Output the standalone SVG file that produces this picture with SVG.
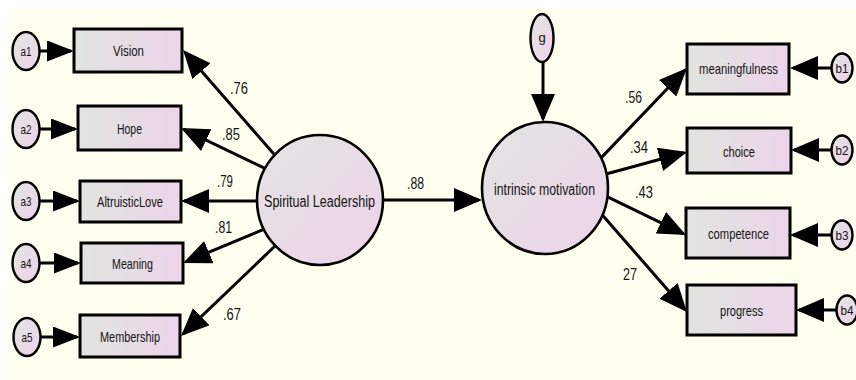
<svg xmlns="http://www.w3.org/2000/svg" width="856" height="380" viewBox="0 0 856 380">
  <defs>
    <linearGradient id="boxFill" x1="0" y1="0" x2="1" y2="0">
      <stop offset="0" stop-color="#e0e5df"/>
      <stop offset="1" stop-color="#edd4ea"/>
    </linearGradient>
    <linearGradient id="ovalFill" x1="0" y1="0" x2="1" y2="1">
      <stop offset="0" stop-color="#e2e5e2"/>
      <stop offset="1" stop-color="#eed2ea"/>
    </linearGradient>
    <marker id="ah" viewBox="0 0 28 24" refX="25" refY="12" markerWidth="28" markerHeight="24" markerUnits="userSpaceOnUse" orient="auto">
      <path d="M0,0 L28,12 L0,24 z" fill="#000"/>
    </marker>
    <marker id="ahs" viewBox="0 0 27 21" refX="24" refY="10.5" markerWidth="27" markerHeight="21" markerUnits="userSpaceOnUse" orient="auto">
      <path d="M0,0 L27,10.5 L0,21 z" fill="#000"/>
    </marker>
  </defs>
  <style>
    .box { fill: url(#boxFill); stroke: #000; stroke-width: 3; }
    .oval { fill: url(#ovalFill); stroke: #000; stroke-width: 2.6; }
    .err { fill: url(#ovalFill); stroke: #000; stroke-width: 2.4; }
    .lbl { font-family: "Liberation Sans", Arial, sans-serif; fill: #141414; }
    .bl { font-size: 15px; }
    .ol { font-size: 16px; }
    .el { font-size: 13px; }
    .coef { font-size: 16px; }
    .cx { stroke: #000; stroke-width: 3; fill: none; marker-end: url(#ah); }
    .ex { stroke: #000; stroke-width: 3; fill: none; marker-end: url(#ahs); }
  </style>

  <!-- canvas -->
  <rect x="0" y="0" width="856" height="380" fill="#ffffff"/>
  <rect x="8" y="8" width="848" height="372" fill="#fffff0"/>

  <!-- connectors -->
  <g id="connectors">
    <!-- loadings of Spiritual Leadership -->
    <path class="cx" d="M276.3,156.8 L185.0,52.3"/>
    <path class="cx" d="M266.5,169.2 L183.7,129.3"/>
    <path class="cx" d="M263,201 L184,201"/>
    <path class="cx" d="M266.6,228.1 L185.8,261.8"/>
    <path class="cx" d="M276.6,244.5 L183.2,333.9"/>
    <!-- structural path -->
    <path class="cx" d="M378,200 L479,200"/>
    <!-- disturbance -->
    <path class="cx" d="M543,58 L543,119"/>
    <!-- loadings of intrinsic motivation -->
    <path class="cx" d="M598.5,160.6 L684.9,70.2"/>
    <path class="cx" d="M605.2,174.3 L684.1,152.8"/>
    <path class="cx" d="M605.5,195.8 L683.3,233.7"/>
    <path class="cx" d="M601.7,214.2 L685,309.7"/>
    <!-- measurement errors -->
    <path class="ex" d="M36,51 L71,51"/>
    <path class="ex" d="M36,129 L75,129"/>
    <path class="ex" d="M36,201 L77,201"/>
    <path class="ex" d="M36,263 L78,263"/>
    <path class="ex" d="M37,337 L77,337"/>
    <path class="cx" d="M834,68 L793,68"/>
    <path class="cx" d="M834,150 L794,150"/>
    <path class="cx" d="M834,235 L793,235"/>
    <path class="cx" d="M840,310 L799,310"/>
  </g>

  <!-- coefficients -->
  <g id="coefficients" class="lbl coef">
    <text x="230" y="94" textLength="18" lengthAdjust="spacingAndGlyphs">.76</text>
    <text x="222" y="140" textLength="18" lengthAdjust="spacingAndGlyphs">.85</text>
    <text x="217" y="187" textLength="16" lengthAdjust="spacingAndGlyphs">.79</text>
    <text x="215" y="233" textLength="17" lengthAdjust="spacingAndGlyphs">.81</text>
    <text x="223" y="320" textLength="18" lengthAdjust="spacingAndGlyphs">.67</text>
    <text x="407" y="189" textLength="17" lengthAdjust="spacingAndGlyphs">.88</text>
    <text x="625" y="103" textLength="17" lengthAdjust="spacingAndGlyphs">.56</text>
    <text x="630" y="153" textLength="18" lengthAdjust="spacingAndGlyphs">.34</text>
    <text x="635" y="198" textLength="18" lengthAdjust="spacingAndGlyphs">.43</text>
    <text x="623" y="280" textLength="14" lengthAdjust="spacingAndGlyphs">27</text>
  </g>

  <!-- latent variables -->
  <g id="spiritual-leadership">
    <ellipse class="oval" cx="320" cy="200" rx="63" ry="65"/>
    <text class="lbl ol" x="264" y="207" textLength="111" lengthAdjust="spacingAndGlyphs">Spiritual Leadership</text>
  </g>
  <g id="intrinsic-motivation">
    <ellipse class="oval" cx="545" cy="188" rx="63" ry="66"/>
    <text class="lbl ol" x="494" y="195" textLength="101" lengthAdjust="spacingAndGlyphs">intrinsic motivation</text>
  </g>
  <g id="g">
    <ellipse class="err" cx="542" cy="38" rx="11.5" ry="24"/>
    <text class="lbl el" x="542" y="42" text-anchor="middle">g</text>
  </g>

  <!-- indicators of Spiritual Leadership -->
  <g id="vision">
    <rect class="box" x="74" y="29" width="108" height="43"/>
    <text class="lbl bl" x="113" y="56" textLength="31" lengthAdjust="spacingAndGlyphs">Vision</text>
  </g>
  <g id="hope">
    <rect class="box" x="78" y="106" width="103" height="44"/>
    <text class="lbl bl" x="117" y="134" textLength="25" lengthAdjust="spacingAndGlyphs">Hope</text>
  </g>
  <g id="altruistic-love">
    <rect class="box" x="80" y="181" width="101" height="41"/>
    <text class="lbl bl" x="97" y="207" textLength="66" lengthAdjust="spacingAndGlyphs">AltruisticLove</text>
  </g>
  <g id="meaning">
    <rect class="box" x="81" y="243" width="102" height="40"/>
    <text class="lbl bl" x="112" y="269" textLength="41" lengthAdjust="spacingAndGlyphs">Meaning</text>
  </g>
  <g id="membership">
    <rect class="box" x="80" y="315" width="100" height="42"/>
    <text class="lbl bl" x="100" y="342" textLength="60" lengthAdjust="spacingAndGlyphs">Membership</text>
  </g>

  <!-- indicators of intrinsic motivation -->
  <g id="meaningfulness">
    <rect class="box" x="687" y="44" width="102" height="50"/>
    <text class="lbl bl" x="699" y="74" textLength="79" lengthAdjust="spacingAndGlyphs">meaningfulness</text>
  </g>
  <g id="choice">
    <rect class="box" x="687" y="128" width="104" height="45"/>
    <text class="lbl bl" x="723" y="157" textLength="32" lengthAdjust="spacingAndGlyphs">choice</text>
  </g>
  <g id="competence">
    <rect class="box" x="686" y="208" width="104" height="50"/>
    <text class="lbl bl" x="708" y="239" textLength="61" lengthAdjust="spacingAndGlyphs">competence</text>
  </g>
  <g id="progress">
    <rect class="box" x="687" y="285" width="109" height="50"/>
    <text class="lbl bl" x="720" y="316" textLength="43" lengthAdjust="spacingAndGlyphs">progress</text>
  </g>

  <!-- error terms -->
  <g id="a1">
    <ellipse class="err" cx="26" cy="51" rx="13.5" ry="19"/>
    <text class="lbl el" x="26" y="55.5" text-anchor="middle" textLength="11" lengthAdjust="spacingAndGlyphs">a1</text>
  </g>
  <g id="a2">
    <ellipse class="err" cx="26" cy="129" rx="13.5" ry="19"/>
    <text class="lbl el" x="26" y="133.5" text-anchor="middle" textLength="11" lengthAdjust="spacingAndGlyphs">a2</text>
  </g>
  <g id="a3">
    <ellipse class="err" cx="26" cy="201" rx="13.5" ry="19"/>
    <text class="lbl el" x="26" y="205.5" text-anchor="middle" textLength="11" lengthAdjust="spacingAndGlyphs">a3</text>
  </g>
  <g id="a4">
    <ellipse class="err" cx="26" cy="263" rx="13.5" ry="19"/>
    <text class="lbl el" x="26" y="267.5" text-anchor="middle" textLength="11" lengthAdjust="spacingAndGlyphs">a4</text>
  </g>
  <g id="a5">
    <ellipse class="err" cx="27" cy="337" rx="13.5" ry="19"/>
    <text class="lbl el" x="27" y="341.5" text-anchor="middle" textLength="11" lengthAdjust="spacingAndGlyphs">a5</text>
  </g>
  <g id="b1">
    <ellipse class="err" cx="842" cy="68" rx="10.5" ry="14.5"/>
    <text class="lbl el" x="842" y="72.5" text-anchor="middle" textLength="13" lengthAdjust="spacingAndGlyphs">b1</text>
  </g>
  <g id="b2">
    <ellipse class="err" cx="842" cy="150" rx="10.5" ry="14.5"/>
    <text class="lbl el" x="842" y="154.5" text-anchor="middle" textLength="13" lengthAdjust="spacingAndGlyphs">b2</text>
  </g>
  <g id="b3">
    <ellipse class="err" cx="842" cy="235" rx="10.5" ry="14.5"/>
    <text class="lbl el" x="842" y="239.5" text-anchor="middle" textLength="13" lengthAdjust="spacingAndGlyphs">b3</text>
  </g>
  <g id="b4">
    <ellipse class="err" cx="847" cy="310" rx="10.5" ry="14.5"/>
    <text class="lbl el" x="847" y="314.5" text-anchor="middle" textLength="13" lengthAdjust="spacingAndGlyphs">b4</text>
  </g>
</svg>
